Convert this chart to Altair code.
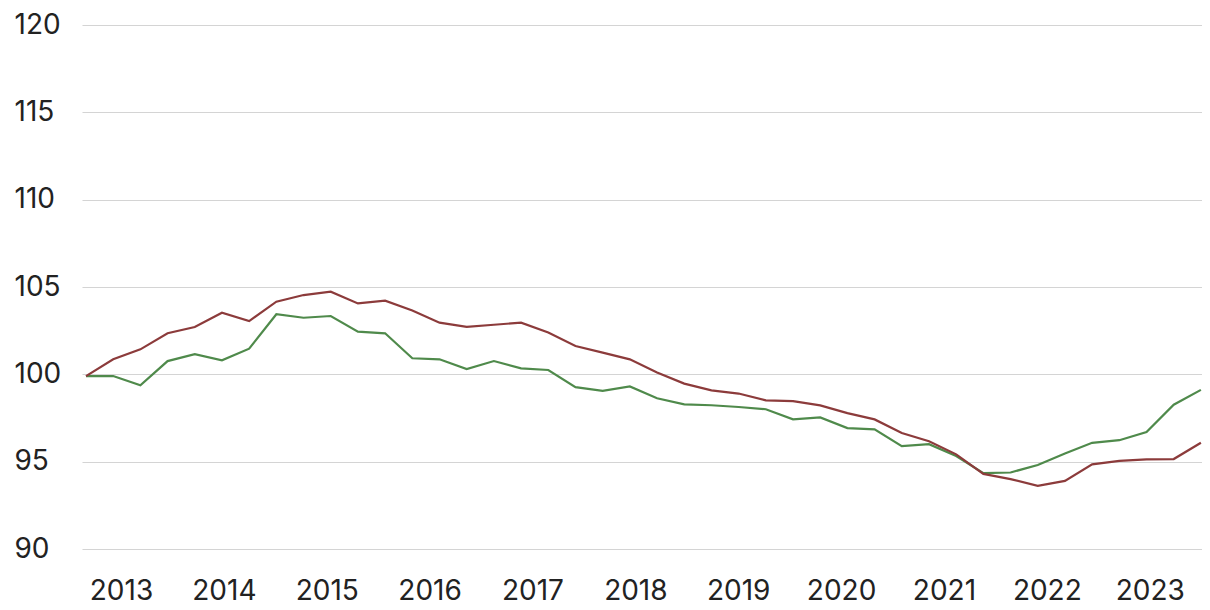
import altair as alt
import pandas as pd

years = ["2013", "2014", "2015", "2016", "2017", "2018", "2019", "2020", "2021", "2022", "2023"]

red_series = [99.9, 100.86, 101.43, 102.35, 102.71, 103.53, 103.05, 104.16, 104.54, 104.73,
              104.06, 104.22, 103.66, 102.96, 102.72, 102.84, 102.96, 102.39, 101.62, 101.24,
              100.86, 100.1, 99.47, 99.08, 98.9, 98.51, 98.47, 98.22, 97.78, 97.42,
              96.64, 96.17, 95.42, 94.3, 94.0, 93.62, 93.9, 94.85, 95.04, 95.13,
              95.15, 96.08]

green_series = [99.9, 99.9, 99.37, 100.76, 101.15, 100.8, 101.47, 103.44, 103.24, 103.34,
                102.44, 102.35, 100.92, 100.86, 100.3, 100.76, 100.34, 100.25, 99.27, 99.05,
                99.31, 98.63, 98.28, 98.23, 98.13, 98.0, 97.42, 97.53, 96.92, 96.85,
                95.89, 96.0, 95.32, 94.34, 94.38, 94.81, 95.47, 96.08, 96.23, 96.7,
                98.26, 99.11]

n = len(red_series)
rows = []
for i in range(n):
    rows.append({"idx": i, "series": "B", "value": green_series[i]})
for i in range(n):
    rows.append({"idx": i, "series": "A", "value": red_series[i]})
df = pd.DataFrame(rows)

# year label positions along the index axis
first_label = 1.287
step = 3.783
tick_vals = [round(first_label + step * k, 3) for k in range(len(years))]
label_expr = "toString(2013 + round((datum.value - %s) / %s))" % (first_label, step)

FONT = "Inter"
FS = 28

x = alt.X(
    "idx:Q",
    scale=alt.Scale(domain=[-0.147, 41.04], nice=False, zero=False),
    axis=alt.Axis(
        values=tick_vals,
        labelExpr=label_expr,
        grid=False,
        domain=False,
        ticks=False,
        labelPadding=28,
        labelFontSize=FS,
        labelFont=FONT,
        labelColor="#222222",
        labelBaseline="top",
        title=None,
    ),
)
y = alt.Y(
    "value:Q",
    scale=alt.Scale(domain=[90, 120], nice=False, zero=False),
    axis=alt.Axis(
        values=[90, 95, 100, 105, 110, 115, 120],
        grid=True,
        gridColor="#d4d4d4",
        gridWidth=1.2,
        domain=False,
        ticks=False,
        labelAlign="left",
        labelPadding=68,
        labelFontSize=FS,
        labelFont=FONT,
        labelColor="#222222",
        title=None,
    ),
)

chart = (
    alt.Chart(df)
    .mark_line(strokeWidth=2.2)
    .encode(
        x=x,
        y=y,
        color=alt.Color(
            "series:N",
            scale=alt.Scale(domain=["B", "A"], range=["#4f8a4b", "#8c3b3b"]),
            legend=None,
        ),
        order=alt.Order("idx:Q"),
    )
    .properties(
        width=1120,
        height=524,
        view=alt.ViewBackground(stroke="transparent", strokeWidth=0),
        autosize=alt.AutoSizeParams(type="none"),
        padding={"left": 74, "top": 17, "right": 0, "bottom": 58},
    )
    .configure_view(strokeWidth=0, stroke="transparent")
    .configure_axisX(grid=False)
    .configure(background="white")
)

chart.save("out.html", embed_options={"renderer": "svg", "actions": False})
